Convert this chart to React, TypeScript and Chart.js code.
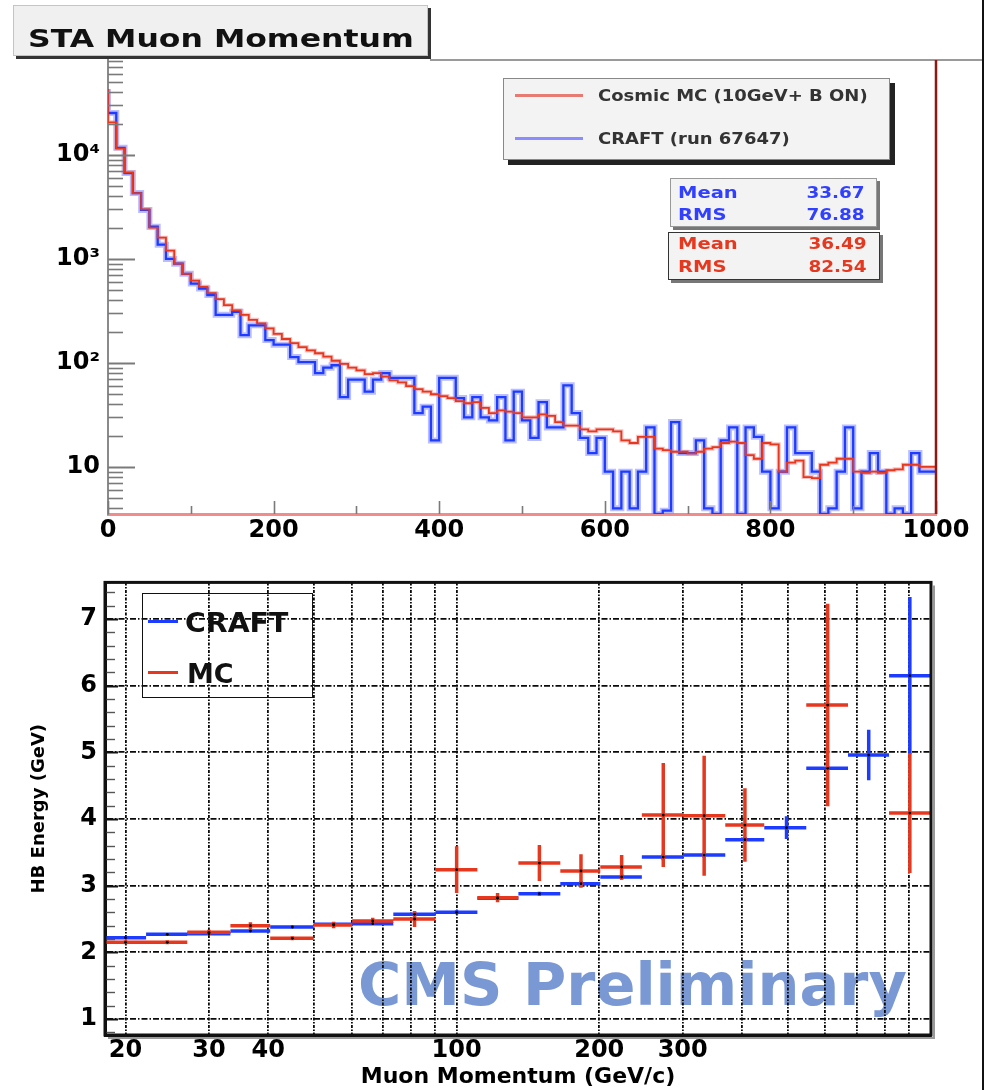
import React, { useEffect, useRef } from 'react';
import { Chart, registerables } from 'chart.js';

Chart.register(...registerables);

const FONT = '"DejaVu Sans", "Liberation Sans", sans-serif';

// ---------------- Top panel: STA Muon Momentum (10 GeV bins, 0-1000) ----------------
const TOP_X_MIN = 0;
const TOP_X_MAX = 1000;
const TOP_BIN_WIDTH = 10;
const TOP_Y_MIN = 3.53;
const TOP_Y_MAX = 81800;

const MC_COUNTS = [
  43000, 20600, 11500, 6800, 4300, 3000, 2000, 1600, 1200, 900,
  720, 620, 540, 470, 410, 360, 320, 290, 260, 240,
  215, 190, 170, 155, 142, 132, 124, 115, 105, 98,
  90, 85, 78, 80, 74, 68, 65, 60, 56, 53,
  50, 48, 46, 43, 41, 42, 37, 33, 35, 34,
  33, 30, 30, 32, 31, 27, 25, 25, 23, 22,
  23, 23, 22, 18, 17, 19.5, 19.5, 15, 14.5, 14,
  14, 13.5, 14, 15, 15.5, 17, 17.5, 17, 13, 12,
  17, 16.5, 9, 11, 11.5, 8, 7.8, 10.5, 11, 12,
  12, 9, 8.8, 9, 8.8, 9.3, 9.5, 10.5, 10.5, 10,
];

const CRAFT_COUNTS = [
  43000, 25300, 11700, 6700, 4300, 2960, 2040, 1370, 1000, 900,
  720, 580, 520, 450, 290, 290, 310, 185, 230, 230,
  166, 150, 150, 114, 102, 102, 80, 90, 95, 47,
  69, 69, 53, 69, 80, 72, 72, 72, 33, 38,
  18, 72, 72, 46, 30, 47, 30, 28, 47, 18,
  53, 28, 19, 42, 24, 24, 61, 33, 19, 13.6,
  19, 9, 4, 9, 4, 9, 24, 0, 3.8, 27,
  13.6, 13.6, 18, 4, 0, 18, 24, 0, 24, 19.5,
  9, 4, 9, 24, 13.6, 13.6, 9, 0, 4, 9,
  24, 4, 9, 13.6, 9, 0, 4, 0, 13.6, 9,
];

const TOP_X_TICKS = [0, 100, 200, 300, 400, 500, 600, 700, 800, 900, 1000];
const TOP_X_LABELLED = [0, 200, 400, 600, 800, 1000];
const TOP_Y_LABELS: Record<number, string> = { 10: '10', 100: '10²', 1000: '10³', 10000: '10⁴' };
const TOP_Y_TICKS: number[] = [];
for (let e = 0; e <= 4; e++) {
  for (let m = 1; m <= 9; m++) {
    const v = m * Math.pow(10, e);
    if (v >= TOP_Y_MIN && v <= TOP_Y_MAX) TOP_Y_TICKS.push(v);
  }
}

// ---------------- Bottom panel: HB energy vs muon momentum ----------------
const P_LOW = [18.1, 22.1, 27.0, 33.3, 40.4, 49.9, 60.2, 73.5, 90.2, 110.6, 135.0, 165.5, 201, 246, 301, 369, 446, 547, 670, 818];
const P_HIGH = [22.1, 27.0, 33.3, 40.4, 49.9, 60.2, 73.5, 90.2, 110.6, 135.0, 165.5, 201, 246, 301, 369, 446, 547, 670, 818, 1003];
const P_CENTER = [20, 24.5, 30, 36.7, 45, 55, 66.5, 81.5, 100, 122, 149.5, 183, 223, 273, 333, 406, 497, 607, 741, 905];

const CRAFT_HB = [2.22, 2.27, 2.28, 2.32, 2.38, 2.42, 2.43, 2.57, 2.6, 2.81, 2.88, 3.03, 3.13, 3.43, 3.46, 3.69, 3.87, 4.76, 4.96, 6.15];
const CRAFT_HB_ERR = [0.01, 0.01, 0.01, 0.015, 0.02, 0.02, 0.02, 0.03, 0.03, 0.03, 0.03, 0.04, 0.04, 0.05, 0.04, 0.04, 0.17, 0.03, 0.38, 1.18];
const MC_HB: (number | null)[] = [2.15, 2.15, 2.3, 2.4, 2.21, 2.41, 2.47, 2.5, 3.24, 2.82, 3.34, 3.22, 3.28, 4.06, 4.05, 3.91, null, 5.71, null, 4.09];
const MC_HB_ERR: (number | null)[] = [0.03, 0.03, 0.04, 0.05, 0.03, 0.05, 0.05, 0.12, 0.35, 0.07, 0.27, 0.25, 0.18, 0.78, 0.9, 0.55, null, 1.52, null, 0.9];

const BOT_X_MIN = 18.1;
const BOT_X_MAX = 1003;
const BOT_Y_MIN = 0.76;
const BOT_Y_MAX = 7.55;
const BOT_X_TICKS = [20, 30, 40, 50, 60, 70, 80, 90, 100, 200, 300, 400, 500, 600, 700, 800, 900];
const BOT_X_LABELLED = [20, 30, 40, 100, 200, 300];
const BOT_Y_TICKS = [1, 2, 3, 4, 5, 6, 7];

const BLUE = '#1d3cff';
const RED = '#e5381f';

function histPoints(counts: number[]) {
  const pts = counts.map((c, i) => ({ x: TOP_X_MIN + i * TOP_BIN_WIDTH, y: c > 0 ? c : TOP_Y_MIN }));
  const last = counts[counts.length - 1];
  pts.push({ x: TOP_X_MAX, y: last > 0 ? last : TOP_Y_MIN });
  return pts;
}

function hBars(vals: (number | null)[]) {
  const pts: { x: number; y: number | null }[] = [];
  vals.forEach((v, i) => {
    if (v == null) return;
    pts.push({ x: P_LOW[i], y: v }, { x: P_HIGH[i], y: v }, { x: P_HIGH[i], y: null });
  });
  return pts;
}

function vBars(vals: (number | null)[], errs: (number | null)[]) {
  const pts: { x: number; y: number | null }[] = [];
  vals.forEach((v, i) => {
    const e = errs[i];
    if (v == null || e == null) return;
    pts.push({ x: P_CENTER[i], y: v - e }, { x: P_CENTER[i], y: v + e }, { x: P_CENTER[i], y: null });
  });
  return pts;
}

function centers(vals: (number | null)[]) {
  const pts: { x: number; y: number }[] = [];
  vals.forEach((v, i) => {
    if (v != null) pts.push({ x: P_CENTER[i], y: v });
  });
  return pts;
}

const topFrame = {
  id: 'topFrame',
  afterDraw(chart: any) {
    const { ctx, chartArea } = chart;
    const xs = chart.scales.x;
    const ys = chart.scales.y;
    ctx.save();
    ctx.strokeStyle = '#7a7a7a';
    ys.ticks.forEach((t: any) => {
      const v = t.value;
      const mant = v / Math.pow(10, Math.floor(Math.log10(v) + 1e-9));
      const major = Math.abs(mant - 1) < 1e-6;
      const py = Math.round(ys.getPixelForValue(v)) + 0.5;
      ctx.lineWidth = major ? 2 : 1.6;
      ctx.beginPath();
      ctx.moveTo(chartArea.left, py);
      ctx.lineTo(chartArea.left + (major ? 27 : 15), py);
      ctx.stroke();
    });
    xs.ticks.forEach((t: any) => {
      const v = t.value;
      const major = v % 200 === 0;
      const px = Math.round(xs.getPixelForValue(v)) + 0.5;
      ctx.lineWidth = 1.6;
      ctx.beginPath();
      ctx.moveTo(px, chartArea.bottom);
      ctx.lineTo(px, chartArea.bottom - (major ? 13 : 8));
      ctx.stroke();
    });
    // right frame edge
    ctx.strokeStyle = '#8c1a12';
    ctx.lineWidth = 2.5;
    ctx.beginPath();
    ctx.moveTo(chartArea.right, chartArea.top);
    ctx.lineTo(chartArea.right, chartArea.bottom);
    ctx.stroke();
    ctx.restore();
  },
};

const bottomFrame = {
  id: 'bottomFrame',
  afterDraw(chart: any) {
    const { ctx, chartArea } = chart;
    const ys = chart.scales.y;
    ctx.save();
    for (let k = Math.ceil(BOT_Y_MIN * 5); k <= Math.floor(BOT_Y_MAX * 5); k++) {
      const v = k / 5;
      const major = k % 5 === 0;
      const py = Math.round(ys.getPixelForValue(v)) + 0.5;
      ctx.lineWidth = major ? 2 : 1.4;
      ctx.strokeStyle = major ? '#111' : '#555';
      ctx.beginPath();
      ctx.moveTo(chartArea.left, py);
      ctx.lineTo(chartArea.left + (major ? 13 : 10), py);
      ctx.stroke();
    }
    // frame with a faint grey shadow on the right / bottom
    ctx.strokeStyle = '#9a9a9a';
    ctx.lineWidth = 2;
    ctx.beginPath();
    ctx.moveTo(chartArea.right + 3, chartArea.top + 3);
    ctx.lineTo(chartArea.right + 3, chartArea.bottom + 3);
    ctx.lineTo(chartArea.left + 3, chartArea.bottom + 3);
    ctx.stroke();
    ctx.strokeStyle = '#111';
    ctx.lineWidth = 3;
    ctx.strokeRect(chartArea.left, chartArea.top, chartArea.right - chartArea.left, chartArea.bottom - chartArea.top);
    ctx.restore();
  },
};

function topConfig(): any {
  const line = (data: any, color: string, width: number, order: number) => ({
    data,
    stepped: 'after',
    borderColor: color,
    borderWidth: width,
    pointRadius: 0,
    fill: false,
    order,
  });
  return {
    type: 'line',
    data: {
      datasets: [
        { label: 'CRAFT halo', ...line(histPoints(CRAFT_COUNTS), 'rgba(118,126,255,0.5)', 6, 4) },
        { label: 'MC halo', ...line(histPoints(MC_COUNTS), 'rgba(242,140,140,0.55)', 4, 3) },
        { label: 'CRAFT (run 67647)', ...line(histPoints(CRAFT_COUNTS), BLUE, 2.3, 2) },
        { label: 'Cosmic MC (10GeV+ B ON)', ...line(histPoints(MC_COUNTS), RED, 1.8, 1) },
      ],
    },
    options: {
      responsive: false,
      animation: false,
      events: [],
      devicePixelRatio: 1,
      layout: { padding: { top: 60, right: 52, left: 0, bottom: 0 } },
      plugins: { legend: { display: false }, tooltip: { enabled: false } },
      scales: {
        x: {
          type: 'linear',
          min: TOP_X_MIN,
          max: TOP_X_MAX,
          afterFit: (s: any) => { s.height = 46; },
          afterBuildTicks: (s: any) => { s.ticks = TOP_X_TICKS.map((v) => ({ value: v })); },
          grid: { display: false, drawTicks: false },
          border: { display: true, color: '#f08c8c', width: 3 },
          ticks: {
            autoSkip: false,
            maxRotation: 0,
            padding: 2,
            color: '#000',
            font: { family: FONT, weight: 'bold', size: 24 },
            callback: (v: any) => (TOP_X_LABELLED.includes(Number(v)) ? String(v) : ''),
          },
        },
        y: {
          type: 'logarithmic',
          min: TOP_Y_MIN,
          max: TOP_Y_MAX,
          afterFit: (s: any) => { s.width = 108; },
          afterBuildTicks: (s: any) => { s.ticks = TOP_Y_TICKS.map((v) => ({ value: v })); },
          grid: { display: false, drawTicks: false },
          border: { display: true, color: '#8a8a8a', width: 2 },
          ticks: {
            autoSkip: false,
            padding: 8,
            color: '#000',
            font: { family: FONT, weight: 'bold', size: 24 },
            callback: (v: any) => TOP_Y_LABELS[Number(v)] || '',
          },
        },
      },
    },
    plugins: [topFrame],
  };
}

function bottomConfig(): any {
  const seg = (data: any, color: string, width: number, order: number) => ({
    data,
    borderColor: color,
    borderWidth: width,
    pointRadius: 0,
    spanGaps: false,
    fill: false,
    order,
  });
  const gridLine = {
    display: true,
    drawOnChartArea: true,
    drawTicks: false,
    color: '#0a0a0a',
    lineWidth: 1.8,
  };
  return {
    type: 'line',
    data: {
      datasets: [
        { label: 'CRAFT', ...seg(hBars(CRAFT_HB), BLUE, 3.5, 4) },
        { label: 'CRAFT err', ...seg(vBars(CRAFT_HB, CRAFT_HB_ERR), BLUE, 3.5, 3) },
        { label: 'MC', ...seg(hBars(MC_HB), RED, 3.5, 2) },
        { label: 'MC err', ...seg(vBars(MC_HB, MC_HB_ERR), RED, 3.5, 1) },
        {
          label: 'centres',
          data: [...centers(CRAFT_HB), ...centers(MC_HB)],
          showLine: false,
          pointRadius: 1.4,
          pointBackgroundColor: '#000',
          pointBorderWidth: 0,
          order: 0,
        },
      ],
    },
    options: {
      responsive: false,
      animation: false,
      events: [],
      devicePixelRatio: 1,
      layout: { padding: { top: 16, right: 57, left: 0, bottom: 0 } },
      plugins: { legend: { display: false }, tooltip: { enabled: false } },
      scales: {
        x: {
          type: 'logarithmic',
          min: BOT_X_MIN,
          max: BOT_X_MAX,
          afterFit: (s: any) => { s.height = 55; },
          afterBuildTicks: (s: any) => { s.ticks = BOT_X_TICKS.map((v) => ({ value: v })); },
          grid: gridLine,
          border: { display: true, color: '#111', width: 3, dash: [3, 1.5, 1.5, 1.5] },
          ticks: {
            autoSkip: false,
            maxRotation: 0,
            padding: 1,
            color: '#000',
            font: { family: FONT, weight: 'bold', size: 24 },
            callback: (v: any) => (BOT_X_LABELLED.includes(Number(v)) ? String(v) : ''),
          },
          title: {
            display: true,
            text: 'Muon Momentum (GeV/c)',
            color: '#000',
            font: { family: FONT, weight: 'bold', size: 22 },
            padding: { top: 0, bottom: 0 },
          },
        },
        y: {
          type: 'linear',
          min: BOT_Y_MIN,
          max: BOT_Y_MAX,
          afterFit: (s: any) => { s.width = 105; },
          afterBuildTicks: (s: any) => { s.ticks = BOT_Y_TICKS.map((v) => ({ value: v })); },
          grid: gridLine,
          border: { display: true, color: '#111', width: 3, dash: [6, 2, 1.5, 2] },
          ticks: {
            autoSkip: false,
            padding: 8,
            color: '#000',
            font: { family: FONT, weight: 'bold', size: 24 },
            callback: (v: any) => String(v),
          },
          title: {
            display: true,
            text: 'HB Energy (GeV)',
            color: '#000',
            font: { family: FONT, weight: 'bold', size: 18 },
            padding: { top: 29, bottom: 0 },
          },
        },
      },
    },
    plugins: [bottomFrame],
  };
}

function Txt(props: { left?: number; right?: number; top: number; size: number; k: number; color: string; children: any }) {
  const { left, right, top, size, k, color, children } = props;
  const style: any = {
    position: 'absolute',
    top,
    fontFamily: FONT,
    fontWeight: 'bold',
    fontSize: size,
    lineHeight: `${size}px`,
    color,
    whiteSpace: 'nowrap',
    transform: `scaleX(${k})`,
    transformOrigin: right != null ? 'right center' : 'left center',
  };
  if (left != null) style.left = left;
  if (right != null) style.right = right;
  return <div style={style}>{children}</div>;
}

export default function App() {
  const topRef = useRef<HTMLCanvasElement>(null);
  const botRef = useRef<HTMLCanvasElement>(null);

  useEffect(() => {
    const top = new Chart(topRef.current as HTMLCanvasElement, topConfig());
    const bot = new Chart(botRef.current as HTMLCanvasElement, bottomConfig());
    return () => {
      top.destroy();
      bot.destroy();
    };
  }, []);

  const box = (l: number, t: number, w: number, h: number, extra: any) => ({
    position: 'absolute' as const,
    left: l,
    top: t,
    width: w,
    height: h,
    boxSizing: 'border-box' as const,
    ...extra,
  });

  return (
    <div style={{ position: 'absolute', left: 0, top: 0, width: 988, height: 1090, background: '#fff', overflow: 'hidden' }}>
      {/* pad lines */}
      <div style={box(430, 59, 553, 2, { background: '#9a9a9a' })} />
      <div style={box(982, 0, 2, 1090, { background: '#111' })} />

      {/* top chart */}
      <canvas ref={topRef} width={988} height={560} style={{ position: 'absolute', left: 0, top: 0, width: 988, height: 560 }} />

      {/* title box */}
      <div style={box(13, 5, 415, 51, { background: '#f0f0f0', border: '1px solid #c4c4c4', boxShadow: '3px 3px 0 #333' })} />
      <Txt left={28} top={25.5} size={25} k={1.26} color="#111">STA Muon Momentum</Txt>

      {/* top legend */}
      <div style={box(503, 78, 387, 82, { background: '#f3f3f3', border: '1px solid #888', boxShadow: '5px 5px 0 #222' })} />
      <div style={box(515, 94, 68, 3, { background: '#e87a74' })} />
      <Txt left={598} top={88.8} size={15} k={1.2} color="#333">Cosmic MC (10GeV+ B ON)</Txt>
      <div style={box(515, 137, 68, 3, { background: '#8a8cff' })} />
      <Txt left={598} top={131.8} size={15} k={1.2} color="#333">CRAFT (run 67647)</Txt>

      {/* stats boxes */}
      <div style={box(670, 178, 207, 49, { background: '#f3f3f3', border: '1px solid #999', boxShadow: '3px 3px 0 #777' })} />
      <Txt left={678} top={185.3} size={16} k={1.22} color="#3140ff">Mean</Txt>
      <Txt right={123} top={185.3} size={16} k={1.15} color="#3140ff">33.67</Txt>
      <Txt left={678} top={207.3} size={16} k={1.22} color="#3140ff">RMS</Txt>
      <Txt right={123} top={207.3} size={16} k={1.15} color="#3140ff">76.88</Txt>
      <div style={box(668, 232, 212, 48, { background: '#f3f3f3', border: '1.5px solid #333', boxShadow: '3px 3px 0 #777' })} />
      <Txt left={678} top={236.3} size={16} k={1.22} color="#e5381f">Mean</Txt>
      <Txt right={121} top={236.3} size={16} k={1.15} color="#e5381f">36.49</Txt>
      <Txt left={678} top={259.3} size={16} k={1.22} color="#e5381f">RMS</Txt>
      <Txt right={121} top={259.3} size={16} k={1.15} color="#e5381f">82.54</Txt>

      {/* watermark behind bottom chart */}
      <Txt left={358} top={955} size={59} k={1} color="#7a98d4">CMS Preliminary</Txt>

      {/* bottom chart */}
      <canvas ref={botRef} width={988} height={530} style={{ position: 'absolute', left: 0, top: 560, width: 988, height: 530 }} />

      {/* bottom legend */}
      <div style={box(142, 593, 171, 105, { border: '1.5px solid #111' })} />
      <div style={box(148, 620, 30, 3, { background: BLUE })} />
      <Txt left={185} top={609} size={27} k={1.05} color="#111">CRAFT</Txt>
      <div style={box(148, 671, 30, 3, { background: RED })} />
      <Txt left={187} top={660} size={27} k={1} color="#111">MC</Txt>
    </div>
  );
}
